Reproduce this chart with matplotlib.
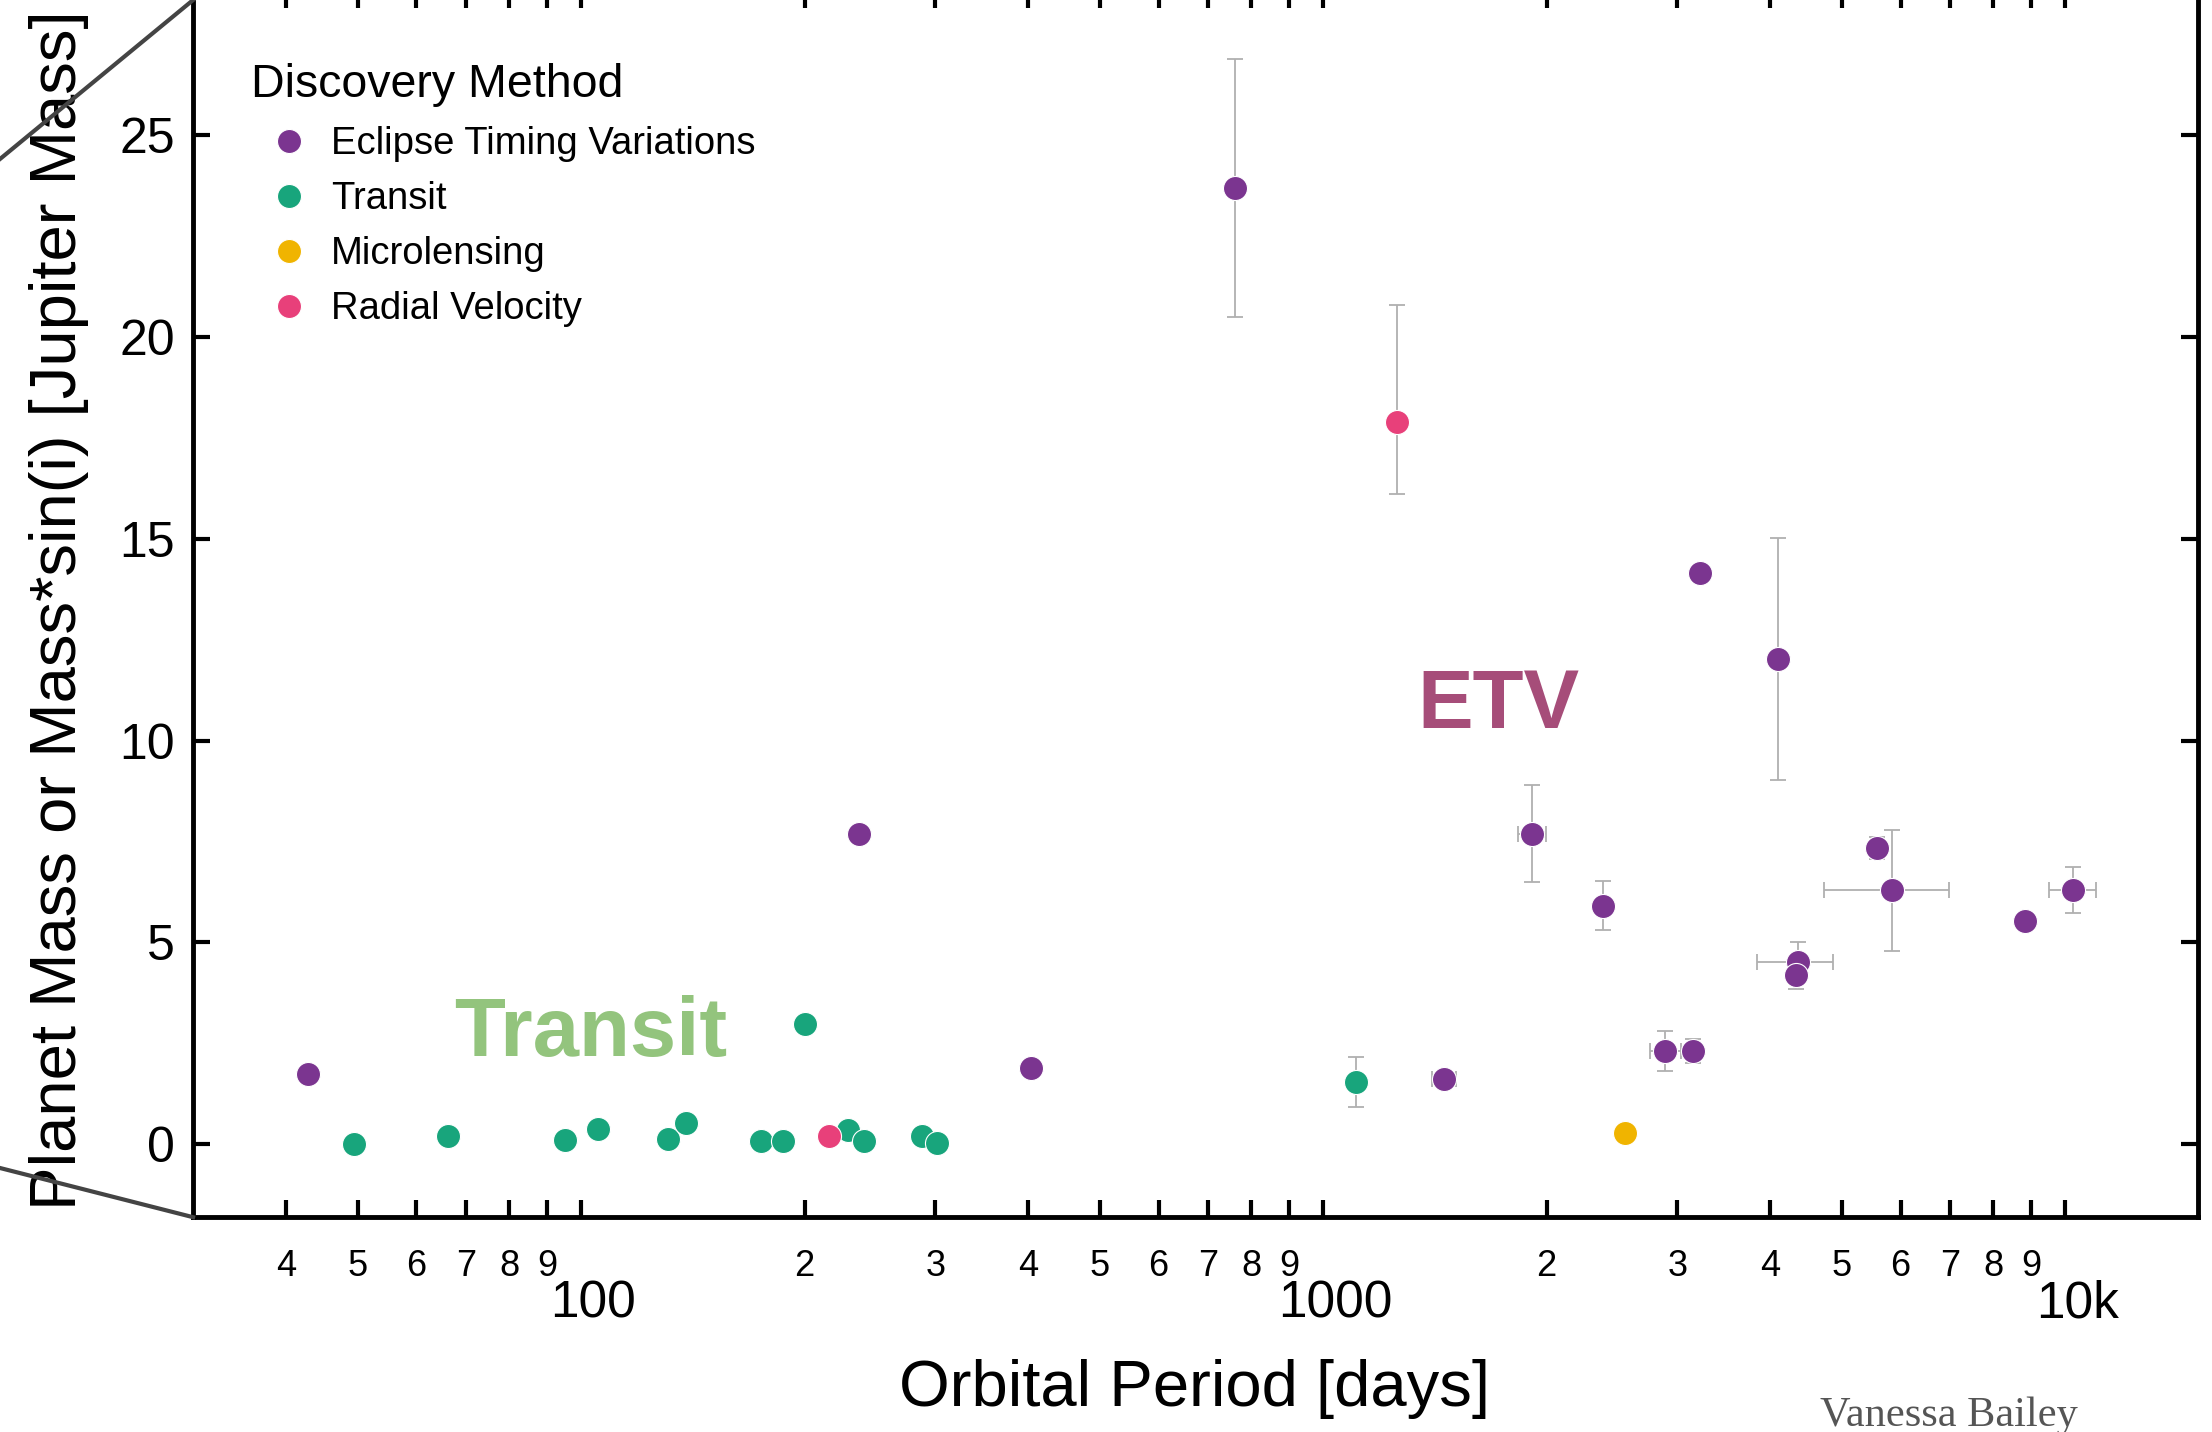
import matplotlib
matplotlib.use("Agg")
import matplotlib.pyplot as plt
import matplotlib.transforms as mtransforms
from matplotlib.lines import Line2D
from matplotlib.ticker import FixedLocator, FixedFormatter

plt.rcParams['font.family'] = ['Liberation Sans', 'DejaVu Sans']

COLORS = {
    "Eclipse Timing Variations": "#7b3590",
    "Transit": "#18a57c",
    "Microlensing": "#f0b400",
    "Radial Velocity": "#e8407a",
}

# Eclipse Timing Variations
etv_period = [42.8, 760, 237, 404, 1453, 1913, 2382, 3222, 2891, 3155, 4100, 4359, 4340, 5569, 5846, 8820, 10235]
etv_mass = [1.75, 23.7, 7.69, 1.89, 1.61, 7.69, 5.91, 14.16, 2.31, 2.31, 12.03, 4.51, 4.20, 7.34, 6.29, 5.52, 6.29]
etv_mass_err = [0, 3.2, 0, 0, 0, 1.2, 0.6, 0, 0.5, 0.3, 3.0, 0.5, 0.35, 0.28, 1.5, 0, 0.57]
etv_period_lo = [0, 0, 0, 0, 50, 80, 0, 0, 130, 0, 0, 520, 0, 0, 1110, 0, 735]
etv_period_hi = [0, 0, 0, 0, 55, 85, 0, 0, 140, 0, 0, 510, 0, 0, 1120, 0, 765]

# Transit
tr_period = [49.5, 66.1, 95, 105.5, 131, 138.5, 174.6, 187, 200, 229, 240.5, 287.6, 302, 1108]
tr_mass = [0.0, 0.21, 0.10, 0.38, 0.14, 0.52, 0.07, 0.07, 2.97, 0.35, 0.07, 0.21, 0.03, 1.54]
tr_mass_err = [0, 0, 0, 0, 0, 0, 0, 0, 0, 0, 0, 0, 0, 0.63]

# Microlensing
ml_period = [2555]
ml_mass = [0.28]

# Radial Velocity
rv_period = [215.6, 1258]
rv_mass = [0.21, 17.9]
rv_mass_err_lo = [0, 1.78]
rv_mass_err_hi = [0, 2.9]

yticks = [0, 5, 10, 15, 20, 25]
major_x = [100, 1000, 10000]
major_x_labels = ["100", "1000", "10k"]
minor_x = [40, 50, 60, 70, 80, 90, 200, 300, 400, 500, 600, 700, 800, 900,
           2000, 3000, 4000, 5000, 6000, 7000, 8000, 9000]
minor_x_labels = [str(v)[0] for v in minor_x]

fig = plt.figure(figsize=(22.12, 14.32), dpi=100)
ax = fig.add_axes([0.0873, 0.150, 0.9064, 0.856])

ERR = dict(fmt='none', ecolor='#b0b0b0', elinewidth=1.3, capsize=6, capthick=1.3, zorder=2)
ax.errorbar(etv_period, etv_mass, yerr=etv_mass_err, xerr=[etv_period_lo, etv_period_hi], **ERR)
ax.errorbar(tr_period, tr_mass, yerr=tr_mass_err, **ERR)
ax.errorbar(rv_period, rv_mass, yerr=[rv_mass_err_lo, rv_mass_err_hi], **ERR)

S = 300
MS = 17.3
for per, mass, name in [(etv_period, etv_mass, "Eclipse Timing Variations"),
                        (tr_period, tr_mass, "Transit"),
                        (ml_period, ml_mass, "Microlensing"),
                        (rv_period, rv_mass, "Radial Velocity")]:
    ax.scatter(per, mass, s=S, c=COLORS[name], edgecolors='white', linewidths=0.8, zorder=3)

ax.set_xscale('log')
ax.set_xlim(30, 15100)
ax.set_ylim(-1.81, 28.57)

ax.xaxis.set_major_locator(FixedLocator(major_x))
ax.xaxis.set_major_formatter(FixedFormatter(major_x_labels))
ax.xaxis.set_minor_locator(FixedLocator(minor_x))
ax.xaxis.set_minor_formatter(FixedFormatter(minor_x_labels))
ax.set_yticks(yticks)

for sp in ax.spines.values():
    sp.set_linewidth(3.5)
ax.tick_params(which='both', direction='in', top=True, right=True, length=12, width=3, color='black')
ax.tick_params(axis='x', which='minor', labelsize=26, pad=23)
ax.tick_params(axis='x', which='major', labelsize=37, pad=45)
ax.tick_params(axis='y', labelsize=36, pad=13)

offset = mtransforms.ScaledTranslation(0.12, 0, fig.dpi_scale_trans)
for lab in ax.xaxis.get_majorticklabels():
    lab.set_transform(lab.get_transform() + offset)

# legend
handles = [Line2D([], [], ls='none', marker='o', markersize=MS, markerfacecolor=c,
                  markeredgecolor='white', markeredgewidth=0.8) for c in COLORS.values()]
leg = ax.legend(handles, list(COLORS.keys()), title="Discovery Method", loc='upper left',
                bbox_to_anchor=(251 / 2212, 1 - 63 / 1432), bbox_transform=fig.transFigure,
                frameon=False, fontsize=27.5, title_fontsize=33.5, handlelength=2.0,
                handletextpad=0.1, labelspacing=0.5, borderpad=0, borderaxespad=0,
                alignment='left')

# annotations
ax.text(103, 2.73, "Transit", color='#93c47d', fontsize=60, fontweight='bold',
        ha='center', va='center')
ax.text(1723, 10.87, "ETV", color='#a64d79', fontsize=60, fontweight='bold', ha='center', va='center')

# axis labels
fig.text(0.540, 0.018, "Orbital Period [days]", fontsize=47, ha='center', va='baseline')
fig.text(0.0267, 1 - 1210 / 1432, "Planet Mass or Mass*sin(i) [Jupiter Mass]", fontsize=47,
         rotation=90, ha='center', va='bottom')

# zoom connector lines
fig.add_artist(Line2D([0, 0.0873], [1 - 159 / 1432, 1.0], color='#444444', lw=3, zorder=10))
fig.add_artist(Line2D([0, 0.0873], [1 - 1168 / 1432, 0.150], color='#444444', lw=3, zorder=10))

fig.text(1820 / 2212, 0.004, "Vanessa Bailey", fontsize=30.5, color='#555555',
         family=['Liberation Serif', 'DejaVu Serif'], ha='left', va='baseline')

fig.savefig("out.png", dpi=100)
